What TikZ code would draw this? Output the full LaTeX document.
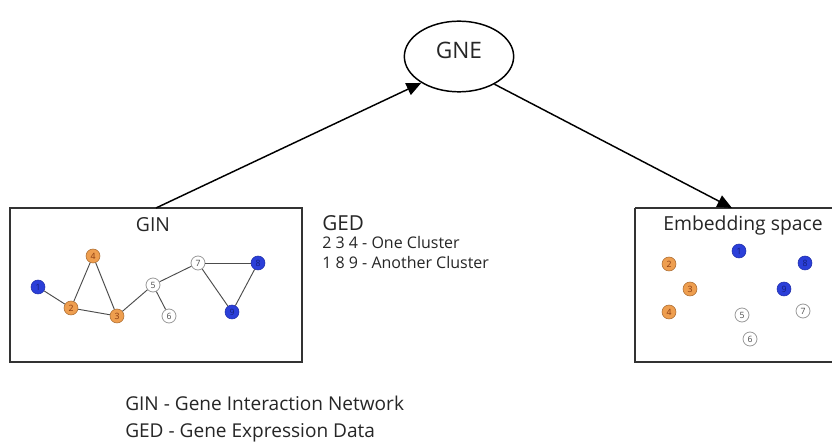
\documentclass[tikz,border=0pt]{standalone}
\usepackage{fontspec}
\setmainfont{Open Sans}
\usetikzlibrary{arrows.meta,shapes.geometric}
\definecolor{nblue}{HTML}{2B3FD9}
\definecolor{nblueb}{HTML}{1F2EA8}
\definecolor{nbluet}{HTML}{15207A}
\definecolor{norange}{HTML}{EE9E4F}
\definecolor{norangeb}{HTML}{A8692E}
\definecolor{norranget}{HTML}{8A3A10}
\definecolor{linegray}{HTML}{333333}
\tikzset{
  numfont/.style={font=\fontsize{6.5}{7}\selectfont},
  bnode/.style={circle, inner sep=0pt, minimum size=10.5pt, fill=nblue, draw=nblueb, line width=0.4pt, text=nbluet, numfont},
  onode/.style={circle, inner sep=0pt, minimum size=10.5pt, fill=norange, draw=norangeb, line width=0.4pt, text=norranget, numfont},
  wnode/.style={circle, inner sep=0pt, minimum size=10.5pt, fill=white, draw=gray!80, line width=0.6pt, text=gray!60!black, numfont},
  panel/.style={draw=linegray, line width=1.6pt},
  edge/.style={draw=gray!60!black, line width=0.7pt},
  flow/.style={draw=black, line width=1.1pt, -{Triangle[length=11pt,width=9.5pt]}},
  title/.style={font=\fontsize{14.5}{16}\selectfont, text=black!85, inner sep=0pt},
  small/.style={font=\fontsize{12}{14}\selectfont, text=black!85, inner sep=0pt, anchor=west},
  legend/.style={font=\fontsize{14.3}{16}\selectfont, text=black!85, inner sep=0pt, anchor=west}
}
\begin{document}
\begin{tikzpicture}[x=0.75pt, y=-0.75pt]
\useasboundingbox (0,0) rectangle (832,445);
\fill[white] (0,0) rectangle (832,445);

% panels
\draw[panel] (10,208) rectangle (302,362);
\draw[panel] (635,208) -- (840,208) (635,208) -- (635,362) -- (840,362);
\coordinate (ginTop) at (156,208);
\coordinate (embTop) at (732,208);

% GNE
\node[ellipse, draw=black, line width=1.1pt, minimum width=82pt, minimum height=53pt, inner sep=0pt] (gne) at (459,56.5) {};
\node[font=\fontsize{17}{19}\selectfont, text=black!85, inner sep=0pt] (gnet) at (459,50.5) {GNE};

\draw[flow] (ginTop) -- (gne.-145);
\draw[flow] (gne.-38) -- (embTop);

% GIN panel
\node[title] (gin) at (153,225) {GIN};
\node[bnode] (g1) at (38,287) {1};
\node[onode] (g2) at (71,308) {2};
\node[onode] (g3) at (117,316) {3};
\node[onode] (g4) at (93,256) {4};
\node[wnode] (g5) at (153,285) {5};
\node[wnode] (g6) at (169,316) {6};
\node[wnode] (g7) at (198,263) {7};
\node[bnode] (g8) at (258,263) {8};
\node[bnode] (g9) at (232,312) {9};
\draw[edge] (g1) -- (g2);
\draw[edge] (g2) -- (g4);
\draw[edge] (g4) -- (g3);
\draw[edge] (g2) -- (g3);
\draw[edge] (g3) -- (g5);
\draw[edge] (g5) -- (g6);
\draw[edge] (g5) -- (g7);
\draw[edge] (g7) -- (g8);
\draw[edge] (g7) -- (g9);
\draw[edge] (g8) -- (g9);

% GED
\node[title, anchor=west, font=\fontsize{15.5}{17}\selectfont] (ged) at (322,223) {GED};
\node[small] (ged1) at (322,243) {2 3 4 - One Cluster};
\node[small] (ged2) at (322,263) {1 8 9 - Another Cluster};

% Embedding panel
\node[title] (emb) at (743,225) {Embedding space};
\node[bnode] (e1) at (739,251) {1};
\node[onode] (e2) at (669,264) {2};
\node[onode] (e3) at (690,289) {3};
\node[onode] (e4) at (669,312) {4};
\node[wnode] (e5) at (742,315) {5};
\node[wnode] (e6) at (750,339) {6};
\node[wnode] (e7) at (803,311) {7};
\node[bnode] (e8) at (805,263) {8};
\node[bnode] (e9) at (784,289) {9};

% legend
\node[legend] (l1) at (125,403) {GIN - Gene Interaction Network};
\node[legend] (l2) at (125,433) {GED - Gene Expression Data};
\end{tikzpicture}
\end{document}
